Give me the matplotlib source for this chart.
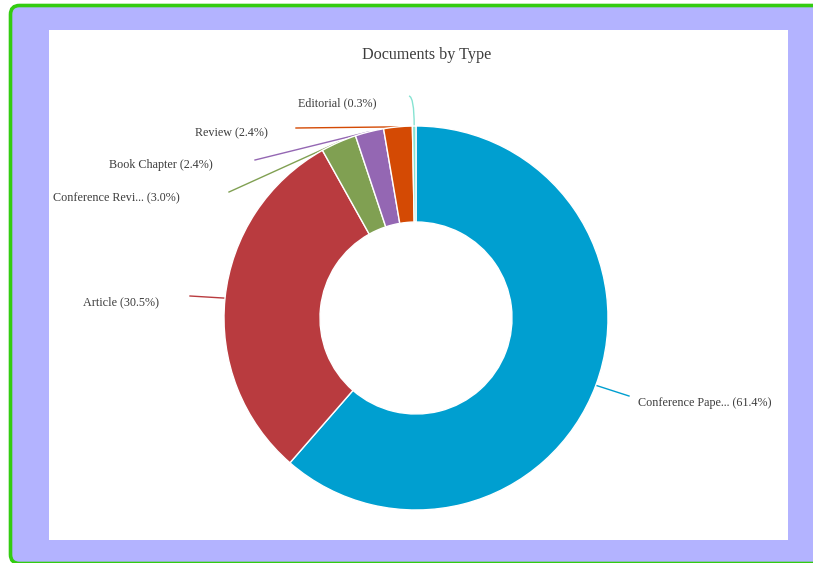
import numpy as np
import matplotlib
matplotlib.use("Agg")
import matplotlib.pyplot as plt
from matplotlib.patches import FancyBboxPatch, Rectangle, PathPatch
from matplotlib.path import Path

# Document types and their shares (%)
labels = ["Conference Pape...", "Article", "Conference Revi...", "Book Chapter", "Review", "Editorial"]
shares = [61.4, 30.5, 3.0, 2.4, 2.4, 0.3]
colors = ["#009fd0", "#b93b3f", "#80a052", "#9467b3", "#d44a04", "#86e3d2"]

W, H = 813, 563
fig = plt.figure(figsize=(W / 100, H / 100), dpi=100)
ax = fig.add_axes([0, 0, 1, 1])

def py(y):
    # convert a top-down pixel row to the axes' y coordinate
    return H - y

# outer frame: lavender card with green rounded border
card = FancyBboxPatch((10.5, py(563.5)), 820, 558, boxstyle="round,pad=0,rounding_size=9",
                      facecolor="#b3b3ff", edgecolor="#33cc11", linewidth=2.6, zorder=0)
ax.add_patch(card)
ax.add_patch(Rectangle((49, py(540)), 739, 510, facecolor="white", edgecolor="none", zorder=0.5))

cx, cy, R = 416, py(318), 192
wedges, _ = ax.pie(shares, colors=colors, startangle=90, counterclock=False,
                   center=(cx, cy), radius=R, frame=True,
                   wedgeprops=dict(width=96, edgecolor="white", linewidth=1.0))
for w in wedges:
    w.set_zorder(3)

ax.set_xlim(0, W)
ax.set_ylim(0, H)
ax.axis("off")

font = "Liberation Serif"
txt_color = "#3c3c3c"
ax.text(427, py(55), "Documents by Type", ha="center", va="center",
        fontsize=11.6, family=font, color=txt_color)

# label anchor (pixel) positions, line start points and alignment
label_pos = [(638, 403, "left"), (159, 302, "right"), (180, 198, "right"),
             (213, 165, "right"), (268, 133, "right"), (376, 103, "right")]
line_start = [(629, 396), (190, 296), (229, 192), (255, 160), (296, 128), (409, 96)]

cum = np.cumsum([0] + shares[:-1])
for i, (lab, val, col) in enumerate(zip(labels, shares, colors)):
    mid = 90 - 3.6 * (cum[i] + val / 2)
    ex = cx + R * np.cos(np.radians(mid))
    ey = cy + R * np.sin(np.radians(mid))
    sx, sy = line_start[i]
    if lab == "Editorial":
        path = Path([(sx, py(sy)), (ex, py(sy + 1)), (ex, ey)],
                    [Path.MOVETO, Path.CURVE3, Path.CURVE3])
        ax.add_patch(PathPatch(path, facecolor="none", edgecolor=col, linewidth=1.0, zorder=2))
    else:
        ax.plot([sx, ex], [py(sy), ey], color=col, linewidth=1.0, zorder=2)
    lx, ly, ha = label_pos[i]
    ax.text(lx, py(ly), f"{lab} ({val:.1f}%)", ha=ha, va="center",
            fontsize=8.7, family=font, color=txt_color)

fig.savefig("out.png", dpi=100, facecolor="white")
